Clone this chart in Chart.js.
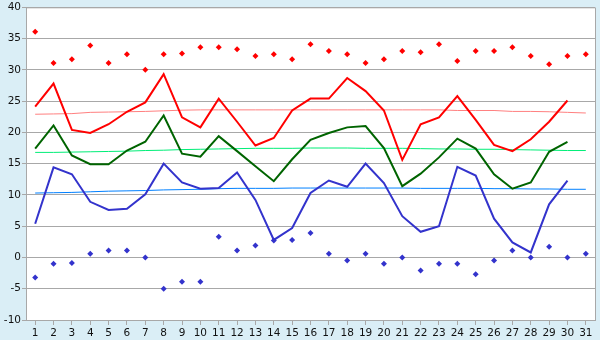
<!DOCTYPE html>
<html><head><meta charset="utf-8">
<script src="https://cdn.jsdelivr.net/npm/chart.js@4/dist/chart.umd.min.js"></script>
<style>html,body{margin:0;padding:0;background:#daeef6;}canvas{display:block}</style>
</head><body>
<canvas id="c" width="600" height="340"></canvas>
<script>
const days = ['1','2','3','4','5','6','7','8','9','10','11','12','13','14','15','16','17','18','19','20','21','22','23','24','25','26','27','28','29','30','31'];
const yTicks = [-10,-5,0,5,10,15,20,25,30,35,40];
const recordHigh = [36.1,31.1,31.7,33.9,31.1,32.5,30.0,32.5,32.6,33.6,33.6,33.3,32.2,32.5,31.7,34.1,33.0,32.5,31.1,31.7,33.0,32.8,34.1,31.4,33.0,33.0,33.6,32.2,30.9,32.2,32.5];
const avgHigh = [24.1,27.8,20.4,19.9,21.3,23.3,24.8,29.3,22.4,20.8,25.4,21.7,17.9,19.1,23.5,25.4,25.4,28.7,26.6,23.5,15.6,21.3,22.4,25.8,22.0,18.0,17.0,18.9,21.7,25.1,null];
const avgMean = [17.4,21.1,16.3,14.9,14.9,17.1,18.5,22.7,16.6,16.1,19.4,17.0,14.6,12.2,15.7,18.8,19.9,20.8,21.0,17.5,11.4,13.4,16.0,19.0,17.4,13.3,11.0,12.0,16.9,18.5,null];
const avgLow = [5.4,14.4,13.3,8.9,7.6,7.8,10.1,15.0,12.0,11.0,11.1,13.6,9.2,2.8,4.7,10.3,12.3,11.3,15.0,11.9,6.6,4.1,5.0,14.5,13.1,6.2,2.4,0.8,8.5,12.3,null];
const recordLow = [-3.2,-1.0,-0.9,0.6,1.1,1.1,0.0,-5.0,-3.9,-3.9,3.3,1.1,1.9,2.7,2.8,3.9,0.6,-0.5,0.6,-1.0,0.0,-2.1,-1.0,-1.0,-2.7,-0.5,1.1,0.0,1.7,0.0,0.6];
const trendHigh = [22.9,22.95,23.0,23.2,23.25,23.3,23.35,23.45,23.55,23.6,23.6,23.6,23.6,23.6,23.6,23.6,23.6,23.6,23.6,23.6,23.6,23.6,23.6,23.5,23.5,23.5,23.35,23.35,23.3,23.2,23.1];
const trendMean = [16.8,16.8,16.85,16.9,16.95,17.0,17.1,17.15,17.25,17.3,17.35,17.4,17.45,17.45,17.45,17.5,17.5,17.5,17.45,17.45,17.45,17.4,17.35,17.35,17.3,17.3,17.25,17.2,17.15,17.1,17.1];
const trendLow = [10.3,10.35,10.4,10.5,10.6,10.65,10.7,10.8,10.85,10.9,11.0,11.05,11.05,11.05,11.1,11.1,11.1,11.1,11.1,11.1,11.1,11.05,11.05,11.05,11.05,11.0,11.0,10.95,10.95,10.9,10.9];

const GRID = '#a8a8a8';
const bgPlugin = {
  id: 'bg',
  beforeDraw(chart) {
    const {ctx, chartArea: a} = chart;
    ctx.save();
    ctx.fillStyle = '#ffffff';
    ctx.fillRect(a.left, a.top, a.right - a.left, a.bottom - a.top);
    ctx.restore();
  },
  afterDraw(chart) {
    const {ctx, chartArea: a} = chart;
    ctx.save();
    ctx.strokeStyle = GRID;
    ctx.lineWidth = 1;
    ctx.beginPath();
    ctx.moveTo(a.left, a.top + 0.5);
    ctx.lineTo(a.right + 0.5, a.top + 0.5);
    ctx.lineTo(a.right + 0.5, a.bottom);
    ctx.stroke();
    ctx.restore();
  }
};

function lineDs(data, color, width, order) {
  return {data, borderColor: color, backgroundColor: color, borderWidth: width,
    pointRadius: 0, pointHoverRadius: 0, tension: 0, fill: false, order, spanGaps: false};
}
function dotDs(data, color, order) {
  return {data, showLine: false, borderColor: color, backgroundColor: color,
    pointStyle: 'rectRot', pointRadius: 3, pointBorderWidth: 0, order};
}

new Chart(document.getElementById('c'), {
  type: 'line',
  data: {
    labels: days,
    datasets: [
      lineDs(trendHigh, '#ff8080', 1, 10),
      lineDs(trendMean, '#00ee77', 1, 10),
      lineDs(trendLow, '#0080ff', 1, 10),
      lineDs(avgHigh, '#ff0000', 2, 5),
      lineDs(avgMean, '#006400', 2, 5),
      lineDs(avgLow, '#3333cc', 2, 5),
      dotDs(recordHigh, '#ff0000', 1),
      dotDs(recordLow, '#3333cc', 1)
    ]
  },
  options: {
    responsive: false,
    animation: false,
    events: [],
    layout: {padding: {top: 5, right: 5, left: 0, bottom: 0}},
    plugins: {legend: {display: false}, tooltip: {enabled: false}},
    scales: {
      x: {
        offset: true,
        grid: {drawOnChartArea: false, drawTicks: true, tickLength: 5, color: GRID},
        border: {display: true, color: GRID},
        ticks: {color: '#111', font: {family: 'DejaVu Sans', size: 10.5}, padding: 2, maxRotation: 0, autoSkip: false},
        afterFit(s) { s.height = 20; }
      },
      y: {
        min: -10, max: 40,
        afterBuildTicks(s) { s.ticks = yTicks.map(v => ({value: v})); },
        grid: {color: GRID, drawTicks: true, tickLength: 4},
        border: {display: true, color: GRID},
        ticks: {color: '#111', font: {family: 'DejaVu Sans', size: 10.5}, padding: 1},
        afterFit(s) { s.width = 26; }
      }
    }
  },
  plugins: [bgPlugin]
});
</script>
</body></html>
